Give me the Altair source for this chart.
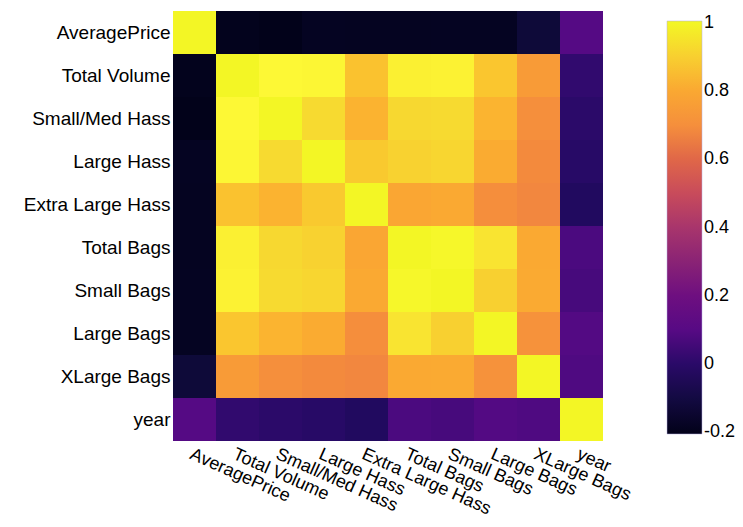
import altair as alt
import pandas as pd

labels = ["AveragePrice", "Total Volume", "Small/Med Hass", "Large Hass",
          "Extra Large Hass", "Total Bags", "Small Bags", "Large Bags",
          "XLarge Bags", "year"]

r_average_price = [1.000, -0.193, -0.208, -0.173, -0.179, -0.177, -0.175, -0.173, -0.118, 0.093]
r_total_volume = [-0.193, 1.000, 0.978, 0.974, 0.872, 0.963, 0.967, 0.881, 0.747, 0.017]
r_small_med = [-0.208, 0.978, 1.000, 0.926, 0.833, 0.920, 0.925, 0.839, 0.699, 0.003]
r_large = [-0.173, 0.974, 0.926, 1.000, 0.888, 0.906, 0.916, 0.810, 0.689, -0.010]
r_extra_large = [-0.179, 0.872, 0.833, 0.888, 1.000, 0.792, 0.803, 0.698, 0.680, -0.037]
r_total_bags = [-0.177, 0.963, 0.920, 0.906, 0.792, 1.000, 0.994, 0.943, 0.804, 0.072]
r_small_bags = [-0.175, 0.967, 0.925, 0.916, 0.803, 0.994, 1.000, 0.903, 0.807, 0.064]
r_large_bags = [-0.173, 0.881, 0.839, 0.810, 0.698, 0.943, 0.903, 1.000, 0.711, 0.088]
r_xlarge_bags = [-0.118, 0.747, 0.699, 0.689, 0.680, 0.804, 0.807, 0.711, 1.000, 0.081]
r_year = [0.093, 0.017, 0.003, -0.010, -0.037, 0.072, 0.064, 0.088, 0.081, 1.000]

rows = [r_average_price, r_total_volume, r_small_med, r_large, r_extra_large,
        r_total_bags, r_small_bags, r_large_bags, r_xlarge_bags, r_year]

legend_values = [-0.2, 0, 0.2, 0.4, 0.6, 0.8, 1]

# colour scale stops (value -> colour)
stop_values = [-0.205, -0.15, -0.1, -0.04, 0.0, 0.05, 0.09, 0.2, 0.3, 0.4,
               0.5, 0.6, 0.7, 0.8, 0.85, 0.9, 0.93, 0.96, 0.98, 1.005]
stop_colors = ["#02021a", "#070628", "#130a42", "#200a5e", "#2a0a68", "#400a78",
               "#540a84", "#6e0f80", "#8a2375", "#a8356c", "#c84b5b", "#e06748",
               "#f58f3c", "#faa832", "#fbb830", "#f8cf30", "#f7dc30", "#fbef32",
               "#fdf935", "#f0f520"]

records = []
for i, rname in enumerate(labels):
    for j, cname in enumerate(labels):
        records.append({"row": rname, "col": cname, "corr": rows[i][j]})
df = pd.DataFrame(records)

FONT = "Liberation Sans"

chart = alt.Chart(df).mark_rect().encode(
    x=alt.X("col:N", sort=labels, title=None,
            axis=alt.Axis(labelAngle=24, labelAlign="left", labelBaseline="top",
                          ticks=False, domain=False, labelPadding=4, labelLimit=400,
                          labelFontSize=18, labelFont=FONT, labelColor="black")),
    y=alt.Y("row:N", sort=labels, title=None,
            axis=alt.Axis(ticks=False, domain=False, labelPadding=3, labelLimit=400,
                          labelFontSize=19, labelFont=FONT, labelColor="black")),
    color=alt.Color("corr:Q",
                    scale=alt.Scale(domain=stop_values, range=stop_colors, clamp=True),
                    legend=alt.Legend(title=None, orient="none", legendX=494, legendY=10,
                                      direction="vertical", gradientLength=413,
                                      gradientThickness=35, values=legend_values,
                                      labelExpr="'' + datum.value",
                                      labelFontSize=18, labelFont=FONT, labelColor="black",
                                      labelOverlap=False, labelOffset=2,
                                      gradientStrokeColor="#b4aee0",
                                      gradientStrokeWidth=0.5)),
).properties(
    width=430, height=430,
    padding={"left": 165, "top": 3, "right": 132, "bottom": 78},
    autosize=alt.AutoSizeParams(type="none"),
).configure_view(stroke=None)

chart.save("out.html", embed_options={"renderer": "svg", "actions": False})
